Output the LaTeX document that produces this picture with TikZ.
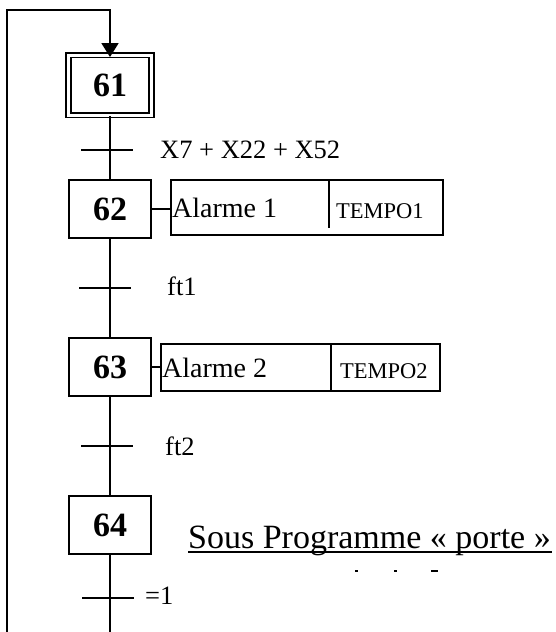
\documentclass[tikz,border=0pt]{standalone}
\usepackage{fontspec}
\setmainfont{Liberation Serif}
\usetikzlibrary{arrows.meta}
\tikzset{
  stepbox/.style={draw, line width=1.9pt, minimum width=82pt, minimum height=58pt, inner sep=0pt, font=\fontsize{34}{34}\selectfont\bfseries},
  initbox/.style={stepbox, double, double distance=3pt, minimum width=83pt, minimum height=60pt},
  trbar/.style={line width=1.9pt},
  link/.style={line width=1.9pt},
  actbox/.style={draw, line width=1.7pt, inner sep=0pt, anchor=north west},
  lbl/.style={anchor=west, inner sep=0pt, font=\fontsize{26.5}{26.5}\selectfont},
  acttxt/.style={anchor=west, inner sep=0pt, font=\fontsize{28}{28}\selectfont},
  tmptxt/.style={anchor=west, inner sep=0pt, font=\fontsize{22.5}{22.5}\selectfont},
}
\begin{document}
\begin{tikzpicture}[x=1pt,y=-1pt]
\useasboundingbox (0,0) rectangle (555,632);
% steps
\node[initbox] (s61) at (110,85) {61};
\node[stepbox] (s62) at (110,209) {62};
\node[stepbox] (s63) at (110,367) {63};
\node[stepbox] (s64) at (110,525) {64};
% transitions
\coordinate (t1) at (110,150);
\coordinate (t2) at (110,288);
\coordinate (t3) at (110,446);
\coordinate (t4) at (110,598);
\draw[trbar] ([xshift=-29pt]t1) -- ([xshift=23pt]t1);
\draw[trbar] ([xshift=-31pt]t2) -- ([xshift=21pt]t2);
\draw[trbar] ([xshift=-29pt]t3) -- ([xshift=23pt]t3);
\draw[trbar] ([xshift=-28pt]t4) -- ([xshift=24pt]t4);
\node[lbl] (l1) at (160,150) {X7 + X22 + X52};
\node[lbl] (l2) at (167,286) {ft1};
\node[lbl] (l3) at (165,446) {ft2};
\node[lbl] (l4) at (145,596) {=1};
% links
\draw[link] (s61.south) -- (s62.north);
\draw[link] (s62.south) -- (s63.north);
\draw[link] (s63.south) -- (s64.north);
\coordinate (bot) at (110,632);
\coordinate (botL) at (7,632);
\coordinate (topL) at (7,10);
\coordinate (topR) at (110,10);
\draw[link] (s64.south) -- (bot);
\draw[link, -{Triangle[length=14pt,width=17pt]}] (botL) -- (topL) -- (topR) -- ([yshift=-3pt]s61.north);
% actions
\node[actbox, minimum width=272pt, minimum height=55pt] (a1) at (170,179) {};
\draw[line width=1.7pt] (329,179) -- (329,228);
\node[acttxt] (a1t) at (172,208) {Alarme 1};
\node[tmptxt] (a1p) at (336,211) {TEMPO1};
\draw[link] (s62.east) -- (s62.east -| a1.west);
\node[actbox, minimum width=279pt, minimum height=47pt] (a2) at (160,343) {};
\draw[line width=1.7pt] (331,343) -- (331,390);
\node[acttxt] (a2t) at (162,368) {Alarme 2};
\node[tmptxt] (a2p) at (340,371) {TEMPO2};
\draw[link] (s63.east |- a2.west) -- (a2.west);
% title
\node[anchor=base west, inner sep=0pt, font=\fontsize{34}{34}\selectfont] (title) at (188,548) {Sous Programme « porte »};
\draw[line width=1.5pt] (188,552) -- (552,552);
\fill (355,570) rectangle (358,572);
\fill (394,570) rectangle (397,572);
\fill (431,570) rectangle (438,572);
\end{tikzpicture}
\end{document}
